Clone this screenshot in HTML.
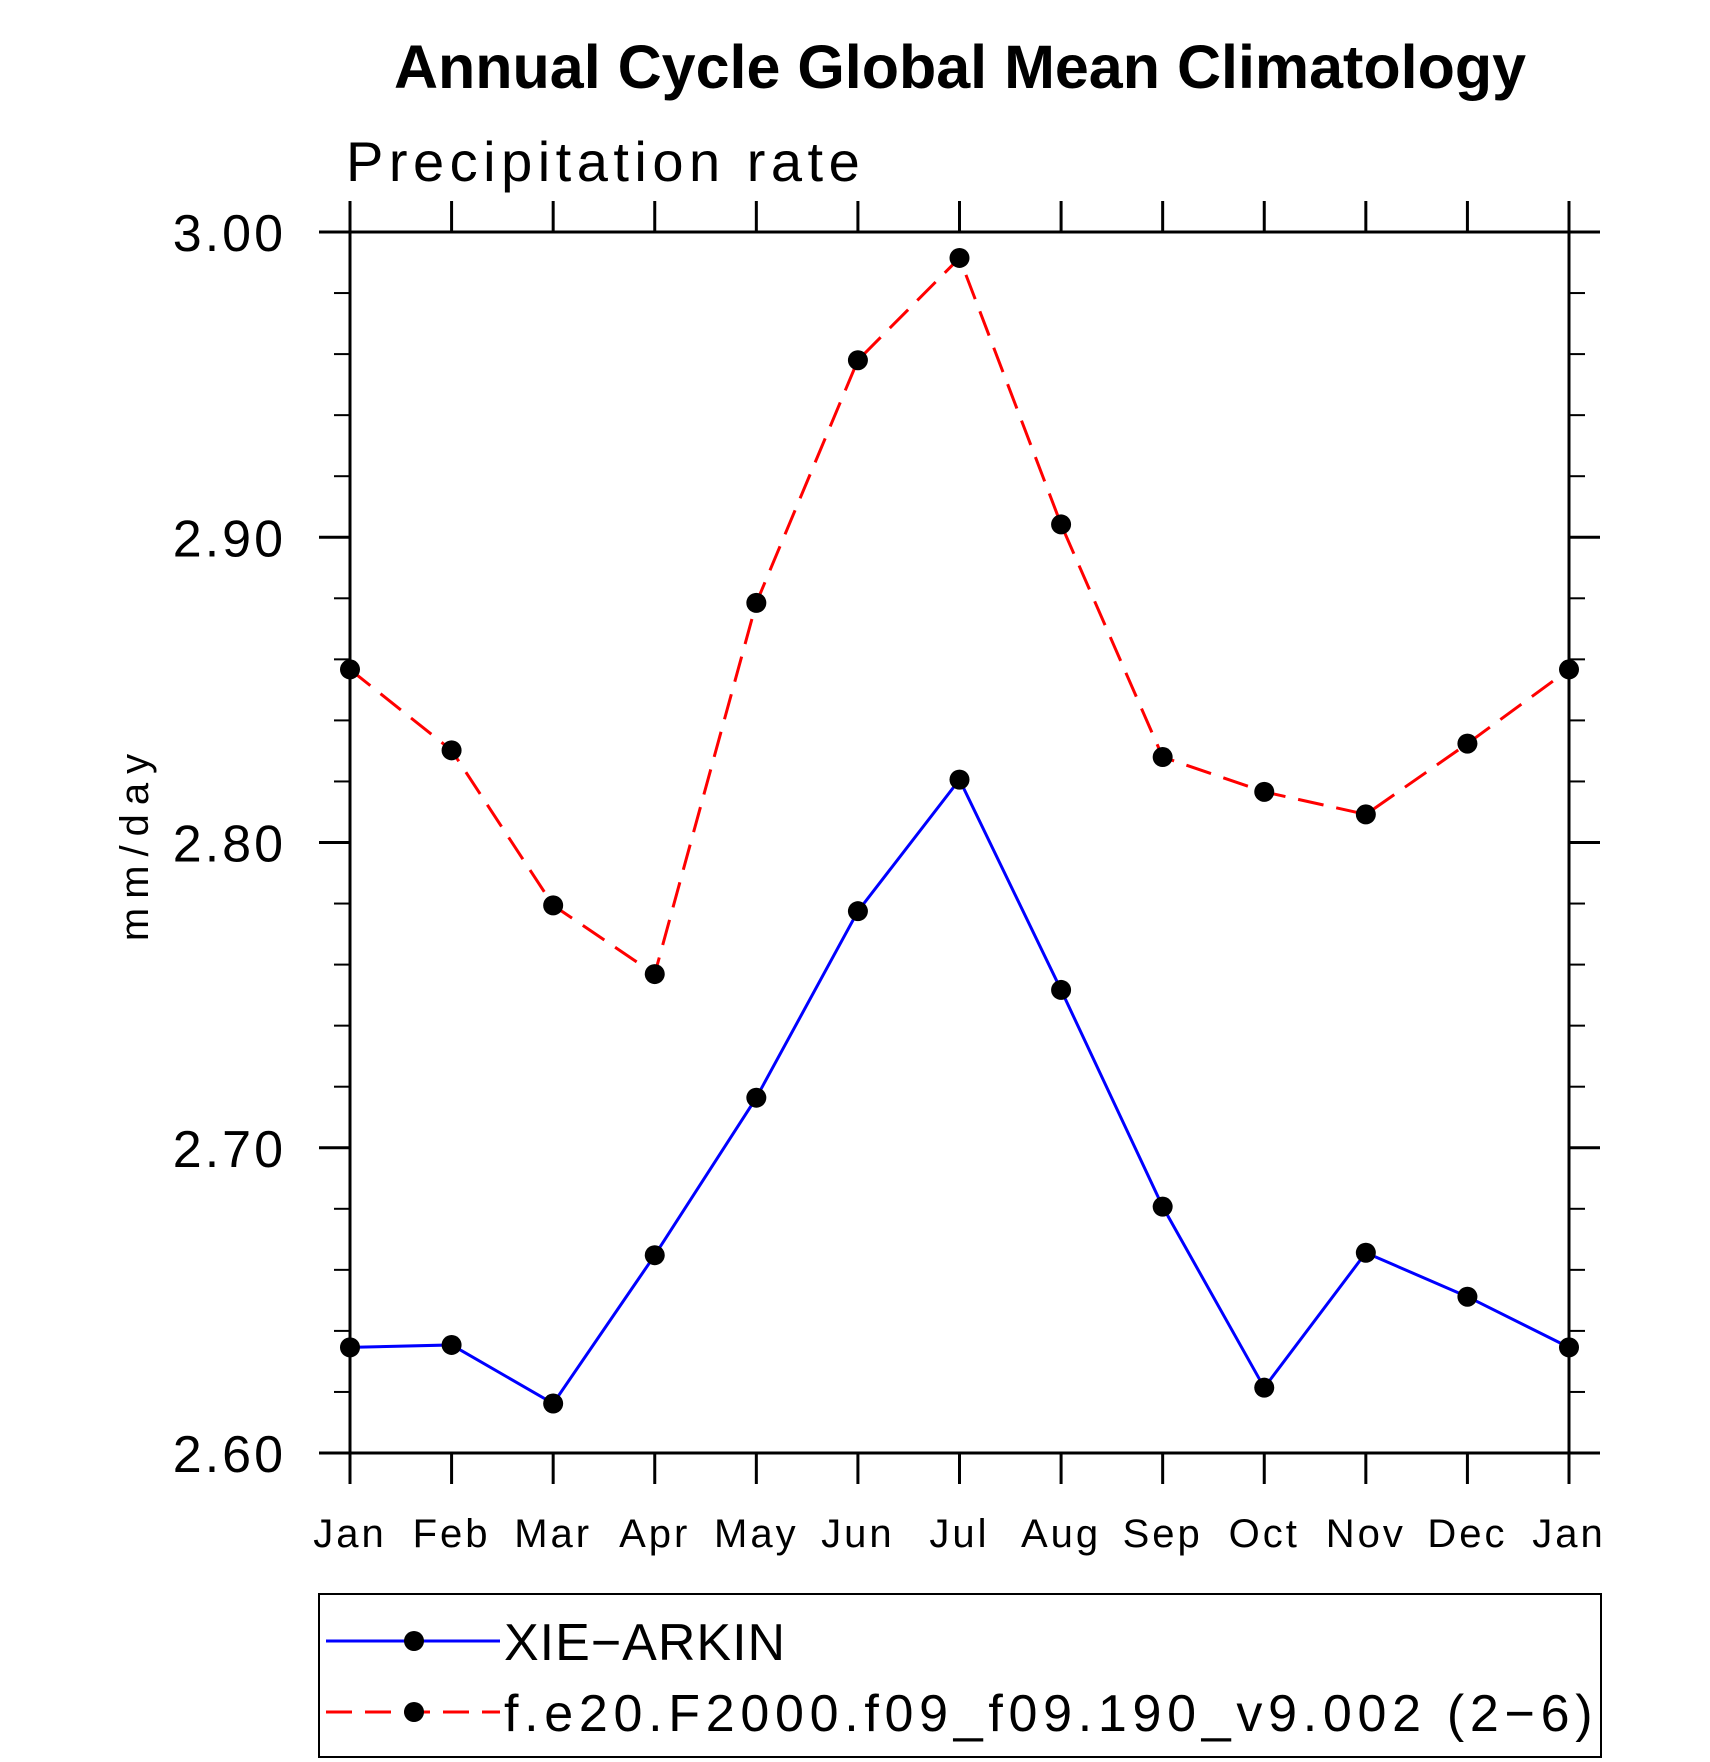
<!DOCTYPE html>
<html><head><meta charset="utf-8"><style>
html,body{margin:0;padding:0;background:#fff}
svg{display:block}
text{font-family:"Liberation Sans",sans-serif;fill:#000}
</style></head><body>
<svg id="chart" width="1710" height="1762" viewBox="0 0 1710 1762" xmlns="http://www.w3.org/2000/svg">
<text x="960" y="88" text-anchor="middle" font-size="61" font-weight="bold">Annual Cycle Global Mean Climatology</text>
<text x="346" y="181" font-size="56" style="letter-spacing:5.5px">Precipitation rate</text>
<text transform="translate(148,843) rotate(-90)" text-anchor="middle" font-size="40" style="letter-spacing:9px">mm/day</text>
<g id="axes"></g>
<g id="series"></g>
<rect x="319" y="1594" width="1282" height="163" fill="none" stroke="#000" stroke-width="2"/>
<g>
<line x1="326" y1="1641" x2="500" y2="1641" stroke="#0000ff" stroke-width="3"/>
<circle cx="414" cy="1641" r="10" fill="#000"/>
<text x="504" y="1660" font-size="52" style="letter-spacing:1px">XIE−ARKIN</text>
</g>
<g>
<line x1="326" y1="1712" x2="500" y2="1712" stroke="#ff0000" stroke-width="3" stroke-dasharray="26 13"/>
<circle cx="414" cy="1712" r="10" fill="#000"/>
<text x="504" y="1731" font-size="52" style="letter-spacing:5.7px">f.e20.F2000.f09_f09.190_v9.002 (2−6)</text>
</g>
</svg>
<script>
const months = ["Jan","Feb","Mar","Apr","May","Jun","Jul","Aug","Sep","Oct","Nov","Dec","Jan"];
const xieArkin = [2.6346,2.6354,2.6162,2.6648,2.7164,2.7775,2.8206,2.7517,2.6807,2.6214,2.6656,2.6512,2.6346];
const model = [2.8567,2.8302,2.7794,2.7569,2.8785,2.958,2.9915,2.9042,2.828,2.8166,2.8092,2.8324,2.8567];
const yTickLabels = ["2.60","2.70","2.80","2.90","3.00"];
const yTickValues = [2.6,2.7,2.8,2.9,3.0];
const yMin = 2.6, yMax = 3.0;
const L=350, R=1569, T=232, B=1453;
const NS="http://www.w3.org/2000/svg";
function xS(i){return L+(R-L)*i/(months.length-1);}
function yS(v){return B-(v-yMin)/(yMax-yMin)*(B-T);}
function mk(tag,attrs,parent){const e=document.createElementNS(NS,tag);for(const k in attrs)e.setAttribute(k,attrs[k]);parent.appendChild(e);return e;}
const ax=document.getElementById('axes');
const frame=mk('rect',{x:L,y:T,width:R-L,height:B-T,fill:'none',stroke:'#000','stroke-width':3},ax);


mk('line',{x1:L-31,y1:T,x2:R+31,y2:T,stroke:'#000','stroke-width':3},ax);
mk('line',{x1:L-31,y1:B,x2:R+31,y2:B,stroke:'#000','stroke-width':3},ax);
months.forEach((m,i)=>{
  const x=xS(i);
  mk('line',{x1:x,y1:T,x2:x,y2:T-31,stroke:'#000','stroke-width':3},ax);
  mk('line',{x1:x,y1:B,x2:x,y2:B+31,stroke:'#000','stroke-width':3},ax);
  const t=mk('text',{x:x,y:1547,'text-anchor':'middle','font-size':40,style:'letter-spacing:3px'},ax);
  t.textContent=m;
  
  
});
for(let k=0;k<=20;k++){
  const v=yMin+k*0.02, y=yS(v), major=(k%5===0);
  const len=major?31:16;
  mk('line',{x1:L-len,y1:y,x2:L,y2:y,stroke:'#000','stroke-width':major?3:2},ax);
  mk('line',{x1:R,y1:y,x2:R+len,y2:y,stroke:'#000','stroke-width':major?3:2},ax);
}
yTickValues.forEach((v,i)=>{
  const t=mk('text',{x:286,y:yS(v)+19,'text-anchor':'end','font-size':52,style:'letter-spacing:3px'},ax);
  t.textContent=yTickLabels[i];
  
  
});
const sg=document.getElementById('series');
function drawSeries(vals,color,dash,name){
  const g=mk('g',{},sg);
  
  
  const pts=vals.map((v,i)=>xS(i)+','+yS(v)).join(' ');
  const attrs={points:pts,fill:'none',stroke:color,'stroke-width':3};
  if(dash)attrs['stroke-dasharray']=dash;
  mk('polyline',attrs,g);
  vals.forEach((v,i)=>{
    const c=mk('circle',{cx:xS(i),cy:yS(v),r:10,fill:'#000'},g);
    
    
  });
}
drawSeries(xieArkin,'#0000ff',null,'series-xie-arkin');
drawSeries(model,'#ff0000','26 13','series-model');
</script>
</body></html>
